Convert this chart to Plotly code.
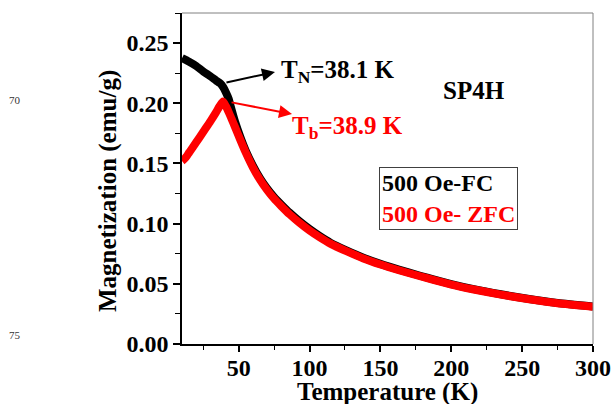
import plotly.graph_objects as go

# Field-cooled (FC) magnetization, 500 Oe
fc_temp = [10, 15, 20, 25, 30, 34, 37, 39, 41, 43, 44, 47.5, 51, 55, 60, 65, 70, 75, 80,
           86, 93, 100, 107, 115, 126, 138, 150, 163, 178, 188, 200, 215, 235, 255,
           275, 300]
fc_mag = [0.2375, 0.2345, 0.231, 0.2265, 0.2225, 0.219, 0.2165, 0.2135, 0.209, 0.2035,
          0.199, 0.1845, 0.1725, 0.1605, 0.1482, 0.1378, 0.1292, 0.1220, 0.1159, 0.1090,
          0.1018, 0.0955, 0.0898, 0.0840, 0.0778, 0.0717, 0.0666, 0.0618, 0.0567, 0.0535,
          0.0498, 0.0458, 0.0413, 0.0374, 0.0341, 0.0312]

# Zero-field-cooled (ZFC) magnetization, 500 Oe
zfc_temp = [10, 11.5, 13, 15, 18, 22, 26, 30, 34, 36.5, 38.9, 41, 43, 45, 47.5, 51, 55,
            60, 65, 70, 75, 80, 86, 93, 100, 107, 115, 126, 138, 150, 163, 178, 188,
            200, 215, 235, 255, 275, 300]
zfc_mag = [0.152, 0.1535, 0.1555, 0.159, 0.164, 0.171, 0.178, 0.185, 0.1925, 0.1975,
           0.2015, 0.1975, 0.1925, 0.187, 0.180, 0.170, 0.159, 0.1468, 0.1365, 0.128,
           0.1207, 0.1146, 0.1077, 0.1006, 0.0943, 0.0888, 0.0832, 0.0771, 0.071, 0.066,
           0.0613, 0.0563, 0.0531, 0.0494, 0.0455, 0.041, 0.0372, 0.0339, 0.031]

x_ticks = [50, 100, 150, 200, 250, 300]
y_ticks = [0.00, 0.05, 0.10, 0.15, 0.20, 0.25]

serif = "Liberation Serif"

fig = go.Figure()
fig.add_trace(go.Scatter(x=fc_temp, y=fc_mag, mode="lines", name="500 Oe-FC",
                         line=dict(color="black", width=8, shape="spline", smoothing=0.6),
                         showlegend=False))
fig.add_trace(go.Scatter(x=zfc_temp, y=zfc_mag, mode="lines", name="500 Oe- ZFC",
                         line=dict(color="#ff0000", width=8, shape="spline", smoothing=0.6),
                         showlegend=False))

tick_font = dict(family=serif, size=24, color="black")
title_font = dict(family=serif, size=25, color="black")

fig.update_xaxes(range=[10, 300], tickvals=x_ticks,
                 ticktext=[f"<b>{v}</b>" for v in x_ticks],
                 ticks="outside", ticklen=6, tickwidth=1.5, tickcolor="black",
                 minor=dict(dtick=25, tick0=0, ticks="outside", ticklen=4,
                            tickwidth=1, tickcolor="black"),
                 showline=True, linecolor="black", linewidth=1.5, showgrid=False,
                 zeroline=False, tickfont=tick_font, automargin=False,
                 ticklabelstandoff=-5)
fig.update_yaxes(range=[0, 0.275], tickvals=y_ticks,
                 ticktext=[f"<b>{v:.2f}</b>" for v in y_ticks],
                 ticks="outside", ticklen=7, tickwidth=1.5, tickcolor="black",
                 minor=dict(dtick=0.025, tick0=0, ticks="outside", ticklen=5,
                            tickwidth=1, tickcolor="black"),
                 showline=True, linecolor="black", linewidth=1.5, showgrid=False,
                 zeroline=False, tickfont=tick_font, automargin=False)

# axis titles
fig.add_annotation(x=0.501, y=-0.145, xref="paper", yref="paper", xanchor="center",
                   yanchor="middle", text="<b>Temperature (K)</b>", showarrow=False,
                   font=title_font)
fig.add_annotation(x=-0.180, y=0.462, xref="paper", yref="paper", xanchor="center",
                   yanchor="middle", textangle=-90, text="<b>Magnetization (emu/g)</b>",
                   showarrow=False, font=title_font)

# thin grey frame on the top and right
fig.add_shape(type="line", xref="paper", yref="paper", x0=0, x1=1, y0=1, y1=1,
              line=dict(color="#808080", width=1))
fig.add_shape(type="line", xref="paper", yref="paper", x0=1, x1=1, y0=0, y1=1,
              line=dict(color="#808080", width=1))

t_n = 38.1
t_b = 38.9
lab_font_k = dict(family=serif, size=25, color="black")
lab_font_r = dict(family=serif, size=25, color="#ff0000")

# arrows pointing from the transitions to their labels
fig.add_annotation(x=75.6, y=0.226, ax=t_n + 2.2, ay=0.217, xref="x", yref="y",
                   axref="x", ayref="y", text="", showarrow=True, arrowhead=2,
                   arrowsize=1.3, arrowwidth=2, arrowcolor="black")
fig.add_annotation(x=87.6, y=0.191, ax=t_b + 5, ay=0.201, xref="x", yref="y",
                   axref="x", ayref="y", text="", showarrow=True, arrowhead=2,
                   arrowsize=1.3, arrowwidth=2, arrowcolor="#ff0000")

fig.add_annotation(x=78.5, y=0.226, xref="x", yref="y", xanchor="left", yanchor="middle",
                   text="<b>T<sub>N</sub>=%.1f K</b>" % t_n, showarrow=False,
                   font=lab_font_k)
fig.add_annotation(x=86.5, y=0.180, xref="x", yref="y", xanchor="left", yanchor="middle",
                   text="<b>T<sub>b</sub>=%.1f K</b>" % t_b, showarrow=False,
                   font=lab_font_r)

fig.add_annotation(x=0.7105, y=0.767, xref="paper", yref="paper", xanchor="center",
                   yanchor="middle", text="<b>SP4H</b>", showarrow=False, font=lab_font_k)

# boxed legend with coloured text
fig.add_annotation(x=0.6484, y=0.441, xref="paper", yref="paper", xanchor="center",
                   yanchor="middle", align="left",
                   text="<b>500 Oe-FC</b><br><b style='color:#ff0000'>500 Oe- ZFC</b>",
                   showarrow=False, font=dict(family=serif, size=24, color="black"),
                   bordercolor="#404040", borderwidth=1, borderpad=2, bgcolor="white")

# page numbers in the left margin
fig.add_annotation(x=-0.4075, y=0.737, xref="paper", yref="paper", xanchor="center",
                   yanchor="middle", text="70", showarrow=False,
                   font=dict(family=serif, size=11, color="#333333"))
fig.add_annotation(x=-0.4075, y=0.027, xref="paper", yref="paper", xanchor="center",
                   yanchor="middle", text="75", showarrow=False,
                   font=dict(family=serif, size=11, color="#333333"))

fig.update_layout(width=613, height=404, margin=dict(l=182, r=20, t=13, b=60),
                  plot_bgcolor="white", paper_bgcolor="white", showlegend=False)

fig.write_html("out.html")
